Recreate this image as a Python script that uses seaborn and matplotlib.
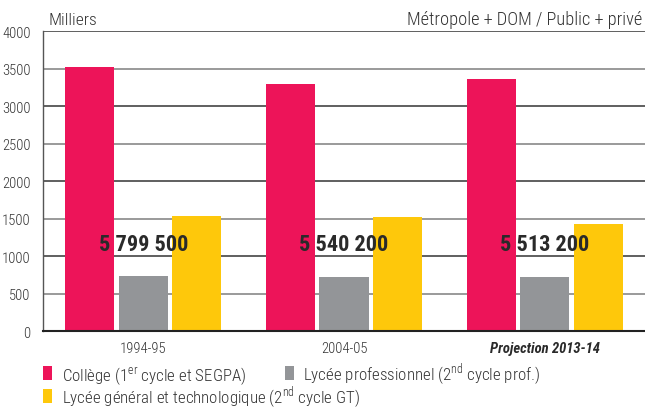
import numpy as np
import pandas as pd
import matplotlib
matplotlib.use("Agg")
import matplotlib.pyplot as plt
from matplotlib.patches import Rectangle
import seaborn as sns

# données (milliers d'élèves)
annees = ["1994-95", "2004-05", "Projection 2013-14"]
college = [3530, 3300, 3365]
lycee_pro = [735, 722, 722]
lycee_gt = [1535, 1518, 1426]
totaux = ["5 799 500", "5 540 200", "5 513 200"]
series = ["Collège (1$^{\\mathregular{er}}$ cycle et SEGPA)",
          "Lycée professionnel (2$^{\\mathregular{nd}}$ cycle prof.)",
          "Lycée général et technologique (2$^{\\mathregular{nd}}$ cycle GT)"]
couleurs = ["#ED1459", "#939598", "#FEC80B"]

df = pd.DataFrame({
    "annee": annees * 3,
    "serie": [series[0]] * 3 + [series[1]] * 3 + [series[2]] * 3,
    "valeur": college + lycee_pro + lycee_gt,
})

sns.set_theme(style="white")
FAM = ["Roboto Condensed", "DejaVu Sans"]
plt.rcParams["font.family"] = FAM
plt.rcParams["font.weight"] = "light"
plt.rcParams["mathtext.fontset"] = "custom"
plt.rcParams["mathtext.rm"] = "Roboto Condensed:light"
TXT = "#333333"
W, H = 645, 410

fig = plt.figure(figsize=(6.45, 4.10), dpi=100, facecolor="white")
ax = fig.add_axes([43 / W, 0.19, 1 - 43 / W, 0.921 - 0.19])

# grille alternée
for v in range(500, 4001, 500):
    if v % 1000 == 0:
        ax.axhline(v, color="#444444", linewidth=1.2, zorder=0)
    else:
        ax.axhline(v, color="#9a9a9a", linewidth=1.4, zorder=0)

sns.barplot(data=df, x="annee", y="valeur", hue="serie", hue_order=series,
            palette=couleurs, width=0.8, gap=0.08, linewidth=0,
            saturation=1, ax=ax, legend=False, zorder=2)

for i, t in enumerate(totaux):
    ax.text(i, 1160, t, ha="center", va="center", fontsize=16, fontweight="bold",
            color="#2a2a2a", zorder=5)

ax.set_xlim(-0.5, 2.5)
ax.set_ylim(0, 4000)
ax.set_yticks(range(0, 4001, 500))
ax.set_xlabel("")
ax.set_ylabel("")
ax.spines[["top", "right"]].set_visible(False)
ax.spines["left"].set_color("#555555")
ax.spines["left"].set_linewidth(1.0)
ax.spines["bottom"].set_color("#222222")
ax.spines["bottom"].set_linewidth(1.5)
ax.tick_params(axis="y", length=0, pad=9, labelsize=10.5, labelcolor=TXT)
ax.tick_params(axis="x", which="major", length=0, pad=7, labelsize=10.5, labelcolor=TXT)
ax.set_xticks([0.5, 1.5], minor=True)
ax.tick_params(axis="x", which="minor", direction="in", length=5, width=1, color="#222222")
lbl = ax.get_xticklabels()
lbl[2].set_style("italic")
lbl[2].set_fontweight("bold")
lbl[2].set_color("#2a2a2a")

fig.text(48 / W, 1 - 25 / H, "Milliers", fontsize=12.5, color=TXT, va="baseline")
fig.text(642 / W, 1 - 25 / H, "Métropole + DOM / Public + privé", fontsize=13.2,
         color=TXT, va="baseline", ha="right")

# légende (placée à la main : 2 entrées sur la 1re ligne, 1 sur la 2e)
leg = [(43, 61.5, 381, 0), (285, 303, 381, 1), (43, 61.5, 404, 2)]
for xr, xt, base, k in leg:
    fig.add_artist(Rectangle((xr / W, 1 - base / H), 9 / W, 14 / H,
                             transform=fig.transFigure, facecolor=couleurs[k],
                             edgecolor="none"))
    fig.text(xt / W, 1 - base / H, series[k], fontsize=12.2, color=TXT, va="baseline")

fig.savefig("out.png", dpi=100, facecolor="white")
